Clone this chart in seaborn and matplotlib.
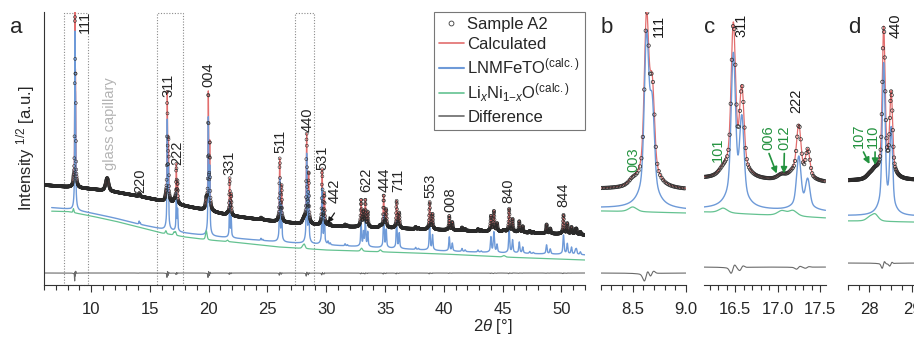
import numpy as np
import seaborn as sns
import matplotlib.pyplot as plt
from matplotlib.lines import Line2D
from matplotlib.patches import Rectangle

# LNMFeTO spinel reflections: K-alpha1 position [deg 2theta] and height (panel a units)
spinel_pos = [8.63, 14.09, 16.48, 17.25, 19.97, 21.78, 24.45, 26.04, 28.33, 29.65, 30.15, 31.6,
              32.96, 33.32, 34.88, 35.98, 37.6, 38.79, 40.46, 41.54, 42.9, 44.0, 44.24, 45.55,
              46.41, 47.3, 48.73, 50.17, 50.85, 51.27]
spinel_int = [165, 3, 106, 37, 115, 36, 2, 62, 88, 55, 3, 2,
              24, 26, 32, 27, 2, 27, 14, 3, 2, 15, 14, 23,
              11, 2, 9, 19, 7, 5]

# LixNi1-xO reflections
nio_pos = [8.5, 16.36, 17.05, 17.18, 19.8, 21.6, 28.0, 28.13, 33.0, 34.6, 45.1]
nio_int = [4, 3, 3, 3.5, 9, 1.5, 2, 4, 3, 2, 1.5]
nio_fwhm = [0.09, 0.12, 0.12, 0.12, 0.15, 0.15, 0.18, 0.18, 0.2, 0.2, 0.25]

# glass capillary hump
glass_pos, glass_int, glass_fwhm = 11.37, 13, 0.3

# backgrounds of panel a
bg_x = [6, 8, 10, 12, 14, 16, 18, 20, 22, 26, 30, 35, 40, 45, 52]
bg_calc = [100, 98, 96, 93, 89, 84, 79, 74, 69, 63, 59, 57, 55, 53, 50]
bg_lnmfeto = [78, 76, 72, 67, 61, 56, 52, 49, 47, 43, 40, 37, 34, 32, 30]
bg_nio = [74, 73.5, 69, 64, 58, 52, 48, 45, 43, 38, 35, 33, 31, 28, 25]
diff_level = 12

# zoom panels b, c, d
zoom_names = ['b', 'c', 'd']
zoom_xlim = [(8.2, 9.0), (16.135, 17.567), (27.5, 30.34)]
zoom_scale = [1.0, 1.42, 1.7]
zoom_nio_scale = [1.2, 1.6, 1.7]
zoom_bg_calc = [(96, 95), (106, 102), (104, 104)]
zoom_bg_blue = [(77, 75), (76, 73), (69, 67)]
zoom_bg_green = [(74, 72), (73, 67), (64, 62)]
zoom_diff = [12, 18, 22]
zoom_major = [0.5, 0.5, 1.0]
zoom_minor = [0.1, 0.1, 0.25]

# peak labels
a_labels = ['111', '311', '222', '004', '331', '511', '440', '531', '442',
            '622', '444', '711', '553', '008', '840', '844']
a_label_x = [9.48, 16.55, 17.29, 19.95, 21.79, 26.1, 28.44, 29.67, 30.68,
             33.39, 34.95, 36.11, 38.9, 40.53, 45.5, 50.13]
a_label_y = [252, 188, 120, 198, 110, 132, 153, 115, 82,
             93, 93, 93, 87, 73, 82, 78]

RED = '#e26d6d'
BLUE = '#6e9ad8'
GREEN = '#64c291'
GRAY = '#6a6a6a'
DARK_GREEN = '#23923f'


def ka2(c):
    return 2 * np.degrees(np.arcsin(np.sin(np.radians(c / 2)) * 1.00605))


def spinel(x, scale=1.0, shift=0.0, wfac=1.0):
    y = np.zeros_like(x)
    for c, h in zip(spinel_pos, spinel_int):
        w = (0.034 + 0.0013 * c) * wfac
        for cc, hh in [(c + shift, h), (ka2(c) + shift, 0.55 * h)]:
            d = (x - cc) / w
            y += scale * hh * (0.75 * np.exp(-4 * np.log(2) * d ** 2) + 0.25 / (1 + 4 * (d / 2.5) ** 2))
    return y


def pv(x, c, h, w):
    d = (x - c) / w
    return h * (0.5 * np.exp(-4 * np.log(2) * d ** 2) + 0.5 / (1 + 4 * d ** 2))


def nio(x, scale=1.0):
    y = np.zeros_like(x)
    for c, h, w in zip(nio_pos, nio_int, nio_fwhm):
        y += scale * pv(x, c, h, w)
    return y


sns.set_theme(style='ticks')
plt.rcParams['font.family'] = ['Liberation Sans', 'DejaVu Sans']
plt.rcParams['mathtext.fontset'] = 'custom'
plt.rcParams['mathtext.rm'] = 'Liberation Sans'
plt.rcParams['mathtext.it'] = 'Liberation Sans:italic'
plt.rcParams['axes.linewidth'] = 0.8

W, H = 914, 338
fig = plt.figure(figsize=(W / 100, H / 100), dpi=100)


def add_axes(x0, x1):
    return fig.add_axes([x0 / W, (H - 285) / H, (x1 - x0) / W, 273 / H])


def style(ax, left=False):
    for s in ['top', 'right']:
        ax.spines[s].set_visible(False)
    ax.spines['left'].set_visible(left)
    ax.spines['bottom'].set_color('#333333')
    ax.spines['left'].set_color('#333333')
    ax.set_yticks([])
    ax.set_ylim(0, 273)
    ax.tick_params(axis='x', which='major', direction='out', length=5, width=0.8,
                   labelsize=12, pad=7, color='#333333')
    ax.tick_params(axis='x', which='minor', direction='out', length=3.5, width=0.8, color='#333333')
    ax.set_xlabel('')
    ax.set_ylabel('')


def draw(ax, x, xo, calc, obs, blue, green, diff, xb=None, s=7, mlw=0.5):
    sns.lineplot(x=x, y=calc, ax=ax, color=RED, linewidth=0.9, estimator=None, sort=False, zorder=2)
    sns.scatterplot(x=xo, y=obs, ax=ax, marker='o', s=s, facecolor='none',
                    edgecolor='#2a2a2a', linewidth=mlw, zorder=3)
    m = np.ones_like(x, dtype=bool) if xb is None else x >= xb
    sns.lineplot(x=x[m], y=blue[m], ax=ax, color=BLUE, linewidth=1.0, estimator=None, sort=False, zorder=2)
    sns.lineplot(x=x[m], y=green[m], ax=ax, color=GREEN, linewidth=0.9, estimator=None, sort=False, zorder=2)
    sns.lineplot(x=x, y=diff, ax=ax, color=GRAY, linewidth=0.8, estimator=None, sort=False, zorder=2)


# ---- panel a
ax = add_axes(44, 585)
x = np.arange(6.0, 52.0, 0.004)
xo = np.arange(6.0, 52.0, 0.015)
glass = pv(x, glass_pos, glass_int, glass_fwhm)
calc = np.interp(x, bg_x, bg_calc) + spinel(x) + nio(x) + glass
obs = (np.interp(xo, bg_x, bg_calc) + spinel(xo, shift=0.002, wfac=0.96) + nio(xo)
       + pv(xo, glass_pos, glass_int, glass_fwhm))
obs_full = np.interp(x, bg_x, bg_calc) + spinel(x, shift=0.002, wfac=0.96) + nio(x) + glass
blue = np.interp(x, bg_x, bg_lnmfeto) + spinel(x)
green = np.interp(x, bg_x, bg_nio) + nio(x)
diff = diff_level + (obs_full - calc) * 0.6
draw(ax, x, xo, calc, obs, blue, green, diff, xb=6.65, s=4.5, mlw=0.4)
style(ax, left=True)
ax.set_xlim(6, 52)
ax.set_xticks(np.arange(10, 52, 5))
ax.set_xticks(np.arange(6, 53, 1), minor=True)
ax.set_ylabel('Intensity $^{1/2}$ [a.u.]', fontsize=12, labelpad=5)
for x0, x1 in [(7.72, 9.76), (15.62, 17.83), (27.37, 28.95)]:
    ax.add_patch(Rectangle((x0, 0), x1 - x0, 272.5, fill=False, ls=(0, (1, 1.5)),
                           ec='#8a8a8a', lw=0.8, clip_on=False, zorder=1))
for t, lx, ly in zip(a_labels, a_label_x, a_label_y):
    ax.text(lx, ly, t, rotation=90, ha='center', va='bottom', fontsize=10.5)
ax.text(14.18, 92, '220', rotation=90, ha='center', va='bottom', fontsize=10.5)
ax.text(11.6, 115, 'glass capillary', rotation=90, ha='center', va='bottom',
        fontsize=10.5, color='#b4b4b4')
ax.annotate('', xy=(30.13, 62), xytext=(30.7, 72),
            arrowprops=dict(arrowstyle='-|>', color='k', lw=0.9, mutation_scale=8,
                            shrinkA=0, shrinkB=0))

handles = [Line2D([], [], marker='o', ls='none', mfc='none', mec='#3a3a3a', ms=3.5, mew=0.6),
           Line2D([], [], color=RED, lw=1.2),
           Line2D([], [], color=BLUE, lw=1.5),
           Line2D([], [], color=GREEN, lw=1.2),
           Line2D([], [], color=GRAY, lw=1.2)]
labels = ['Sample A2', 'Calculated', 'LNMFeTO$^{\\mathrm{(calc.)}}$',
          'Li$_{x}$Ni$_{1\\mathrm{-}x}$O$^{\\mathrm{(calc.)}}$', 'Difference']
leg = ax.legend(handles, labels, loc='upper right', bbox_to_anchor=(1.0, 1.0), borderaxespad=0,
                fontsize=12, frameon=True, fancybox=False, edgecolor='#777777', framealpha=1,
                handlelength=1.5, handletextpad=0.2, labelspacing=0.3, borderpad=0.3)
leg.get_frame().set_linewidth(0.8)

# ---- panels b, c, d
zoom_px = [(600.7, 686), (704, 825.7), (848, 970)]
zoom_text = [
    [('111', 8.75, 248, 'k'), ('003', 8.51, 113, DARK_GREEN)],
    [('311', 16.58, 248, 'k'), ('222', 17.215, 172, 'k'), ('101', 16.3, 123, DARK_GREEN),
     ('006', 16.89, 135, DARK_GREEN), ('012', 17.08, 135, DARK_GREEN)],
    [('440', 28.6, 247, 'k'), ('107', 27.76, 137, DARK_GREEN), ('110', 28.08, 137, DARK_GREEN)],
]
zoom_arrows = [
    [],
    [((16.9, 131.5), (16.99, 111.5)), ((17.08, 131.5), (17.075, 111.5))],
    [((27.86, 133), (28.0, 121)), ((28.13, 133), (28.13, 120))],
]
for i in range(3):
    ax = add_axes(*zoom_px[i])
    lo, hi = zoom_xlim[i]
    x = np.arange(lo, hi, 0.002)
    xo = np.arange(lo + 0.004, hi, 0.0135)
    bgc = np.interp(x, [lo, hi], zoom_bg_calc[i])
    s, n = zoom_scale[i], zoom_nio_scale[i]
    calc = bgc + spinel(x, s) + nio(x, n)
    obs_full = bgc + spinel(x, s, shift=0.002, wfac=0.96) + nio(x, n)
    obs = np.interp(xo, [lo, hi], zoom_bg_calc[i]) + spinel(xo, s, shift=0.002, wfac=0.96) + nio(xo, n)
    blue = np.interp(x, [lo, hi], zoom_bg_blue[i]) + spinel(x, s)
    green = np.interp(x, [lo, hi], zoom_bg_green[i]) + nio(x, n)
    diff = zoom_diff[i] + (obs_full - calc) * 0.6
    draw(ax, x, xo, calc, obs, blue, green, diff, s=6, mlw=0.5)
    style(ax)
    ax.set_xlim(lo, hi)
    step = zoom_major[i]
    ax.set_xticks(np.arange(np.ceil(lo / step) * step, hi + 1e-6, step))
    ax.set_xticks(np.arange(np.ceil(lo / zoom_minor[i] - 1e-6) * zoom_minor[i], hi + 1e-6, zoom_minor[i]),
                  minor=True)
    if i < 2:
        ax.xaxis.set_major_formatter(plt.FormatStrFormatter('%.1f'))
    else:
        ax.xaxis.set_major_formatter(plt.FormatStrFormatter('%d'))
    for t, lx, ly, col in zoom_text[i]:
        ax.text(lx, ly, t, rotation=90, ha='center', va='bottom', fontsize=10.5, color=col)
    for (x0, y0), (x1, y1) in zoom_arrows[i]:
        ax.annotate('', xy=(x1, y1), xytext=(x0, y0),
                    arrowprops=dict(arrowstyle='-|>', color=DARK_GREEN, lw=1.2,
                                    mutation_scale=9, shrinkA=0, shrinkB=0))

# panel letters and shared x label
for t, px in [('a', 10), ('b', 600.7), ('c', 704), ('d', 848)]:
    fig.text(px / W, 1 - 33 / H, t, fontsize=16, ha='left', va='baseline')
fig.text(493 / W, 1 - 327 / H, '$2\\theta$ [°]', fontsize=12, ha='center', va='center')

fig.savefig('out.png', dpi=100)
